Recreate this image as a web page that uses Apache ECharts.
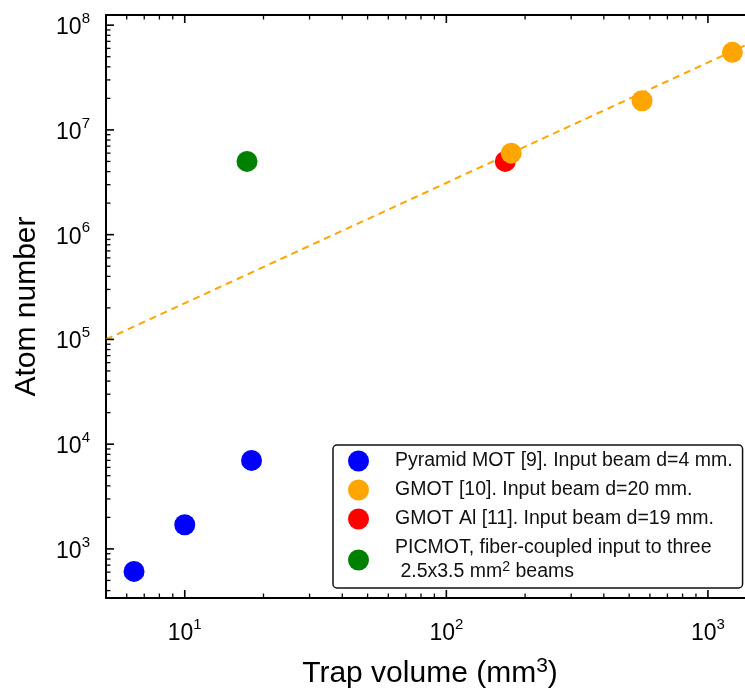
<!DOCTYPE html>
<html><head><meta charset="utf-8">
<script src="https://cdn.jsdelivr.net/npm/echarts@6/dist/echarts.min.js"></script>
<style>html,body{margin:0;padding:0;background:#fff}#c{width:745px;height:692px}</style>
</head><body><div id="c"></div>
<script>
// ---- data ----
const pyramidX = [6.4, 10, 18];
const pyramidY = [610, 1700, 7000];
const gmotX = [177, 560, 1240];
const gmotY = [6.0e6, 1.9e7, 5.5e7];
const gmotAlX = [168];
const gmotAlY = [5.0e6];
const picmotX = [17.3];
const picmotY = [5.0e6];
const fitX = [5, 1500];
const fitY = [1.0e5, 7.0e7];
const xTickValues = [10, 100, 1000];
const yTickValues = [1e3, 1e4, 1e5, 1e6, 1e7, 1e8];
const xRange = [5, 1500];
const yRange = [340, 1.25e8];
const seriesNames = ['Pyramid MOT', 'GMOT', 'GMOT Al', 'PICMOT'];
const legendLabels = {
  'Pyramid MOT': 'Pyramid MOT [9]. Input beam d=4 mm.',
  'GMOT': 'GMOT [10]. Input beam d=20 mm.',
  'GMOT Al': 'GMOT Al [11]. Input beam d=19 mm.',
  'PICMOT': 'PICMOT, fiber-coupled input to three\n 2.5x3.5 mm{sup|2} beams'
};
const colors = ['#0000FF', '#FFA500', '#FF0000', '#008000'];

const zip = (xs, ys) => xs.map((x, i) => [x, ys[i]]);
const FONT = 'Liberation Sans, Arial, sans-serif';
const NARROW = 'Liberation Sans Narrow, Liberation Sans, Arial, sans-serif';

// minor tick positions (multiples 2..9 of each decade) inside the axis range
function minorValues(range) {
  const out = [];
  const lo = Math.floor(Math.log10(range[0])), hi = Math.ceil(Math.log10(range[1]));
  for (let e = lo; e < hi; e++) {
    for (let k = 2; k <= 9; k++) {
      const v = k * Math.pow(10, e);
      if (v > range[0] && v < range[1]) out.push(v);
    }
  }
  return out;
}
// kind: 0 = x minor, 1 = y minor, 2 = x major, 3 = y major
const tickData = []
  .concat(minorValues(xRange).map(v => [v, yRange[0], 0]))
  .concat(minorValues(yRange).map(v => [xRange[0], v, 1]))
  .concat(xTickValues.map(v => [v, yRange[0], 2]))
  .concat(yTickValues.map(v => [xRange[0], v, 3]));

function powLabel(ticks) {
  return function (v) {
    for (const t of ticks) {
      if (Math.abs(v - t) / t < 1e-6) return '{b|10}{s|' + Math.round(Math.log10(t)) + '}';
    }
    return '';
  };
}
const tickRich = {
  b: { fontSize: 23, fontFamily: NARROW, color: '#000', lineHeight: 28, verticalAlign: 'bottom' },
  s: { fontSize: 15, fontFamily: NARROW, color: '#000', lineHeight: 15, verticalAlign: 'top' }
};

const chart = echarts.init(document.getElementById('c'));
chart.setOption({
  animation: false,
  backgroundColor: '#fff',
  textStyle: { fontFamily: FONT },
  grid: { left: 106, top: 15, width: 648, bottom: 94, outerBoundsMode: 'none' },
  xAxis: [
    { type: 'log', min: xRange[0], max: xRange[1], position: 'bottom',
      axisLine: { show: true, lineStyle: { color: '#000', width: 2 } },
      axisTick: { show: false }, splitLine: { show: false },
      axisLabel: { margin: 19, formatter: powLabel(xTickValues), rich: tickRich, showMinLabel: false, showMaxLabel: false },
      name: '{t|Trap volume (mm}{u|3}{t|)}', nameLocation: 'middle', nameGap: 58,
      nameTextStyle: { rich: { t: { fontSize: 30, fontFamily: FONT, color: '#000', lineHeight: 36 }, u: { fontSize: 21, fontFamily: FONT, color: '#000', verticalAlign: 'top', lineHeight: 21 } } }
    },
    { type: 'log', min: xRange[0], max: xRange[1], position: 'top',
      axisLine: { show: true, lineStyle: { color: '#000', width: 2 } },
      axisTick: { show: false }, splitLine: { show: false }, axisLabel: { show: false } }
  ],
  yAxis: [
    { type: 'log', min: yRange[0], max: yRange[1], position: 'left',
      axisLine: { show: true, lineStyle: { color: '#000', width: 2 } },
      axisTick: { show: false }, splitLine: { show: false },
      axisLabel: { margin: 16, formatter: powLabel(yTickValues), rich: tickRich, showMinLabel: false, showMaxLabel: false },
      name: 'Atom number', nameLocation: 'middle', nameGap: 64,
      nameTextStyle: { fontSize: 30, fontFamily: FONT, color: '#000' }
    }
  ],
  legend: {
    data: seriesNames,
    orient: 'vertical',
    left: 333, top: 445,
    padding: [4, 10, 4, 15],
    itemGap: 5,
    itemWidth: 21, itemHeight: 21,
    icon: 'circle',
    borderColor: '#111', borderWidth: 1.5, borderRadius: 4,
    backgroundColor: '#fff',
    formatter: name => legendLabels[name],
    textStyle: {
      fontSize: 19.5, fontFamily: FONT, color: '#111', lineHeight: 24, padding: [0, 0, 0, 21],
      rich: { sup: { fontSize: 14, fontFamily: FONT, color: '#111', verticalAlign: 'top', lineHeight: 14 } }
    }
  },
  series: [
    { type: 'custom', silent: true, clip: false, z: 5,
      data: tickData,
      renderItem: function (params, api) {
        const v0 = api.value(0), v1 = api.value(1), kind = api.value(2);
        const major = kind >= 2;
        const L = major ? 8 : 4.5;
        const style = { stroke: '#000', lineWidth: major ? 1.6 : 1.3 };
        if (kind === 0 || kind === 2) {
          const b = api.coord([v0, yRange[0]]);
          const t = api.coord([v0, yRange[1]]);
          return { type: 'group', children: [
            { type: 'line', shape: { x1: b[0], y1: b[1], x2: b[0], y2: b[1] - L }, style: style },
            { type: 'line', shape: { x1: t[0], y1: t[1], x2: t[0], y2: t[1] + L }, style: style }
          ] };
        }
        const l = api.coord([xRange[0], v1]);
        return { type: 'line', shape: { x1: l[0], y1: l[1], x2: l[0] + L, y2: l[1] }, style: style };
      }
    },
    { type: 'line', name: 'fit', data: zip(fitX, fitY), symbol: 'none', silent: true, z: 1,
      lineStyle: { color: '#FFA500', width: 2, type: [7, 5] } },
    { type: 'scatter', name: seriesNames[0], data: zip(pyramidX, pyramidY), symbolSize: 21, z: 3, itemStyle: { color: colors[0], opacity: 1 } },
    { type: 'scatter', name: seriesNames[2], data: zip(gmotAlX, gmotAlY), symbolSize: 21, z: 3, itemStyle: { color: colors[2], opacity: 1 } },
    { type: 'scatter', name: seriesNames[1], data: zip(gmotX, gmotY), symbolSize: 21, z: 4, itemStyle: { color: colors[1], opacity: 1 } },
    { type: 'scatter', name: seriesNames[3], data: zip(picmotX, picmotY), symbolSize: 21, z: 3, itemStyle: { color: colors[3], opacity: 1 } }
  ]
});
</script>
</body></html>
